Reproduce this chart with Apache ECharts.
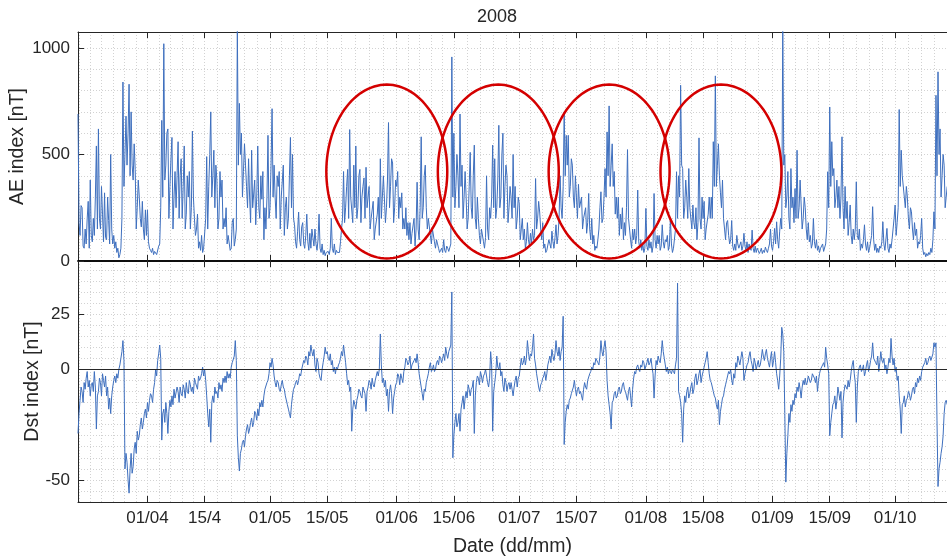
<!DOCTYPE html>
<html><head><meta charset="utf-8">
<script src="https://cdn.jsdelivr.net/npm/echarts@6/dist/echarts.min.js"></script>
<style>html,body{margin:0;padding:0;background:#fff}#c{width:947px;height:558px}</style>
</head><body><div id="c"></div>
<script>
// ---- data (6-hourly samples starting 2008-03-15 00:00 UTC, one row of 4 per day) ----
const startDate = Date.UTC(2008, 2, 15);
const stepHours = 6;
const aeValues = [
690,180,120,260, 250,70,60,150, 80,200,280,60, 380,120,90,200, 120,300,540,150,
620,200,150,350, 220,90,320,110, 100,300,190,80, 500,150,80,120, 60,90,40,60,
15,30,60,200, 840,350,500,680, 450,600,830,400, 700,450,380,550, 430,150,250,380,
300,200,160,280, 150,100,240,120, 240,90,60,50, 40,60,30,45, 50,30,25,70,
80,250,660,300, 1020,380,450,600, 620,200,350,480, 580,150,300,420, 250,400,560,200,
400,480,200,350, 540,150,220,400, 300,420,150,250, 610,300,200,120, 150,220,60,90,
50,120,40,60, 60,200,490,150, 350,500,700,300, 400,520,250,450, 380,150,200,420,
300,380,150,200, 160,250,80,120, 120,50,60,180, 200,70,100,150, 1100,450,740,500,
600,300,420,550, 450,350,250,480, 300,180,520,250, 250,380,170,300, 540,250,200,400,
290,420,100,250, 150,300,590,200, 250,450,715,300, 450,300,200,400, 350,420,150,300,
300,450,120,250, 300,150,200,400, 580,250,500,200, 170,90,60,140, 230,100,70,160,
180,80,60,120, 220,90,50,130, 60,150,110,70, 150,80,50,100, 220,60,40,80,
30,50,25,40, 35,45,30,60, 200,60,40,80, 30,50,40,35, 40,90,150,200,
420,180,250,350, 430,200,617,300, 300,180,450,250, 540,200,250,400, 430,180,300,350,
390,200,440,250, 250,350,150,200, 200,280,100,150, 150,220,300,120, 480,200,300,400,
400,180,250,380, 650,250,350,480, 460,180,250,380, 350,420,200,300, 250,320,150,200,
150,250,120,180, 100,180,80,130, 130,200,70,150, 370,150,100,250, 583,200,250,400,
450,250,150,200, 200,120,80,150, 150,90,60,100, 80,60,40,50, 60,40,100,50,
40,70,60,45, 50,80,958,300, 600,250,350,500, 400,250,690,350, 450,200,300,420,
300,150,200,350, 510,250,200,400, 544,200,150,300, 200,120,80,150, 150,90,60,110,
400,150,100,250, 200,300,544,250, 480,200,250,380, 637,250,300,500, 600,200,350,450,
400,180,250,350, 300,200,500,250, 350,150,200,300, 270,100,150,200, 100,150,60,90,
180,100,70,130, 80,150,100,120, 387,150,200,280, 230,150,100,180, 60,80,40,50,
50,100,80,60, 140,90,60,110, 170,80,120,200, 400,250,200,350, 700,400,590,450,
590,300,350,480, 450,300,250,400, 300,200,360,250, 250,300,150,200, 200,250,130,180,
317,150,100,200, 80,120,50,70, 60,100,150,250, 325,180,200,300, 434,300,606,400,
728,350,450,550, 350,420,220,300, 200,300,120,220, 150,250,100,180, 120,250,523,200,
200,100,60,150, 100,150,80,120, 333,90,60,100, 50,80,40,60, 247,70,50,100,
60,90,40,70, 317,100,60,120, 80,120,50,70, 170,90,60,100, 90,120,50,70,
200,80,40,60, 60,150,419,200, 400,300,825,450, 434,200,250,380, 300,200,434,250,
200,150,263,180, 150,250,100,180, 578,200,150,300, 200,280,100,150, 150,220,300,200,
300,200,560,350, 869,350,450,550, 400,320,250,380, 200,150,100,180, 190,120,80,100,
190,70,50,80, 50,120,80,60, 60,90,50,70, 130,70,50,90, 40,80,60,50,
145,60,40,70, 40,60,50,35, 45,60,35,50, 40,65,50,40, 60,80,150,70,
50,90,153,80, 184,100,60,140, 200,150,1100,450, 500,250,300,420, 200,150,434,250,
300,180,340,200, 520,200,250,380, 387,150,200,300, 250,150,100,180, 90,120,60,80,
200,90,60,100, 50,70,40,60, 60,80,45,50, 80,150,419,250, 723,350,560,400,
434,250,300,380, 250,350,200,300, 583,250,150,350, 200,280,120,180, 263,120,80,150,
100,150,372,120, 100,150,50,80, 60,100,170,80, 50,90,40,60, 60,120,255,100,
50,80,40,60, 40,70,60,90, 184,80,50,100, 153,60,40,80, 60,100,150,200,
263,120,180,250, 711,350,520,400, 400,300,250,350, 300,200,150,250, 231,150,100,180,
120,150,60,90, 80,120,200,60, 30,40,20,35, 25,40,30,60, 40,100,231,150,
778,400,888,500, 620,300,400,500, 450,250,300,350
];
const dstValues = [
-29,-20,-14,-8, -10,-15,-6,-9, -4,-1,-8,-5, -12,-7,-6,-10, -1,-8,-27,-12,
-10,-4,-6,-12, -2,-5,-8,-3, -12,-8,-18,-13, -20,-12,-8,-5, -3,-6,-2,-4,
0,2,5,8, 13,4,-45,-38, -42,-50,-56,-45, -38,-47,-44,-36, -33,-38,-28,-32,
-30,-25,-22,-27, -24,-20,-18,-22, -15,-19,-14,-11, -12,-15,-9,-6, 0,-3,4,7,
11,5,-32,-20, -18,-24,-15,-20, -29,-19,-14,-17, -12,-16,-9,-13, -13,-8,-10,-15,
-8,-11,-12,-7, -9,-13,-6,-10, -11,-5,-7,-10, -8,-11,-4,-6, -6,-9,-3,-5,
-4,-2,1,-3, 0,-5,-12,-20, -26,-18,-33,-15, -12,-15,-8,-11, -10,-13,-6,-9,
-7,-10,-4,-6, -3,-6,-1,-4, -2,-4,1,3, 3,6,13,4, -30,-40,-46,-38,
-36,-33,-32,-35, -30,-27,-25,-29, -27,-24,-22,-26, -24,-19,-20,-23, -18,-21,-15,-17,
-14,-17,-12,-9, -9,-6,-5,-2, 3,1,5,2, -3,-6,-8,-5, -6,-9,-10,-7,
-5,-8,-9,-12, -12,-16,-18,-20, -22,-16,-12,-9, -8,-6,-5,-7, -5,-2,-3,0,
0,4,3,6, 5,2,8,6, 11,8,6,9, 2,-1,5,3, -2,-4,-5,0,
3,6,10,7, 8,5,4,7, 2,4,-1,1, -2,1,0,2, 3,5,8,6,
11,7,3,-2, -7,-5,-10,-8, -28,-18,-14,-16, -18,-14,-12,-9, -10,-12,-13,-8,
-8,-11,-19,-10, -8,-5,-6,-9, -4,-7,-8,-5, -5,-1,-3,0, 16,2,-6,-4,
-8,-5,-12,-9, -19,-10,-7,-11, -20,-13,-10,-7, -6,-2,-3,-7, -2,-4,-6,-1,
1,5,4,2, 3,6,0,2, 2,4,5,3, 7,3,-2,-5, -8,-11,-14,-9,
-10,-6,-4,-2, 1,3,-1,0, 2,-1,0,3, 4,2,6,5, 3,5,7,4,
10,7,5,8, 8,11,35,-40, -30,-24,-20,-26, -24,-20,-28,-18, -15,-12,-18,-13,
-10,-13,-7,-9, -12,-9,-8,-5, -29,-12,-6,-3, -4,-7,-1,-3, -6,-3,-2,0,
-3,-6,-8,-4, 8,2,-28,-10, -6,-2,6,1, 0,3,-3,-1, -7,-10,-4,-6,
-10,-7,-6,-9, -6,-9,-12,-8, -5,-3,-8,-4, -3,1,5,2, 3,6,2,5,
13,8,4,7, 6,10,16,5, 2,-2,-5,-8, -10,-7,-6,-4, -3,-1,-5,-2,
2,4,6,3, 9,6,4,7, 13,8,6,10, 4,8,10,24, -34,-24,-19,-16,
-18,-14,-13,-11, -11,-8,-5,-9, -12,-9,-8,-11, -10,-12,-14,-9, -6,-8,-9,-5,
-5,-2,-1,1, 0,3,2,5, 5,3,2,6, 13,8,6,10, 13,8,-5,-12,
-16,-20,-27,-15, -14,-11,-10,-13, -12,-9,-8,-11, -10,-7,-6,-9, -10,-12,-14,-10,
-8,-12,-17,-9, -4,-1,-2,1, 2,0,-1,2, 1,4,3,0, 0,3,5,2,
3,5,1,-2, -13,-3,4,2, 6,4,3,7, 13,8,5,2, -1,1,-2,0,
-1,-2,0,-1, -2,2,5,39, -10,-12,-15,-20, -33,-18,-12,-15, -10,-8,-13,-11,
-8,-6,-11,-9, -4,-2,-7,-5, -2,0,-6,-3, -1,1,3,5, 8,3,-2,-5,
-6,-8,-10,-12, -13,-16,-18,-14, -25,-19,-16,-13, -12,-9,-7,-5, -3,-1,-2,0,
-5,-7,-2,-4, 3,1,6,4, 2,5,8,5, -5,-2,0,2, 3,6,8,4,
2,-1,5,3, 0,2,4,1, 2,5,9,6, 4,7,9,5, 3,1,5,8,
1,4,8,3, -2,-5,-9,-3, 5,19,16,8, -20,-51,-38,-30, -20,-24,-16,-19,
-14,-16,-11,-13, -8,-10,-6,-9, -13,-8,-5,-7, -4,-7,-6,-3, -3,-6,-5,-2,
-2,-4,-6,-3, -10,-5,-2,0, 0,2,3,1, 10,5,2,-2, -30,-24,-20,-16,
-15,-12,-18,-14, -8,-11,-14,-10, -31,-15,-10,-7, -7,-9,-5,-8, -5,-1,2,4,
-2,-6,-24,-8, -1,1,2,-1, 0,2,-3,-1, 2,4,-1,1, 4,6,12,5,
5,3,2,6, -1,3,8,4, 3,5,0,2, -2,1,5,3, 14,6,2,5,
-1,1,-5,-3, -12,-18,-29,-16, -15,-12,-17,-14, -13,-10,-11,-14, -12,-9,-8,-11,
-6,-8,-4,-6, -3,-5,-1,1, 1,3,5,2, 3,5,6,4, 4,7,12,10,
12,-23,-53,-45, -42,-38,-35,-30, -20,-15,-14,-16
];
const tickDates = ['2008-04-01','2008-04-15','2008-05-01','2008-05-15','2008-06-01','2008-06-15',
  '2008-07-01','2008-07-15','2008-08-01','2008-08-15','2008-09-01','2008-09-15','2008-10-01'];
const tickLabels = ['01/04','15/4','01/05','15/05','01/06','15/06','01/07','15/07','01/08','15/08','01/09','15/09','01/10'];
const aeTicks = [0, 500, 1000];
const dstTicks = [-50, 0, 25];
// highlighted intervals (red ellipses): centre time, centre AE, half-width (days), half-height (nT)
const ellipseCentres = ['2008-05-29T14:00Z','2008-06-25T21:00Z','2008-07-23T00:00Z','2008-08-19T09:00Z'];
const ellipseCentreAE = [420, 420, 420, 420];
const ellipseHalfDays = [14.8, 14.8, 14.8, 14.8];
const ellipseHalfAE = [408, 408, 408, 408];

// ---- build ----
const DAY = 86400000;
const xMin = startDate;
const xMax = startDate + 212.7 * DAY;
const tickTimes = tickDates.map(d => Date.parse(d + 'T00:00:00Z'));
const aeData = aeValues.map((v, i) => [startDate + i * stepHours * 3600000, v]);
const dstData = dstValues.map((v, i) => [startDate + i * stepHours * 3600000, v]);

// minor grid: 5 subdivisions per labelled interval
const minorVals = [];
(function () {
  const step0 = (tickTimes[1] - tickTimes[0]) / 5;
  for (let t = tickTimes[0] - step0; t >= xMin - 1; t -= step0) minorVals.push(t);
  for (let k = 0; k < tickTimes.length - 1; k++) {
    const s = (tickTimes[k + 1] - tickTimes[k]) / 5;
    for (let j = 0; j < 5; j++) minorVals.push(tickTimes[k] + j * s);
  }
  const last = tickTimes[tickTimes.length - 1];
  const sl = (last - tickTimes[tickTimes.length - 2]) / 5;
  for (let t = last; t <= xMax; t += sl) minorVals.push(t);
  minorVals.sort((a, b) => a - b);
})();

const FONT = "'Liberation Sans', Arial, Helvetica, sans-serif";
const TXT = '#262626';
const gridLine = { show: true, lineStyle: { color: '#d2d2d2', width: 1, type: [1, 2] } };
const fmtX = v => { const i = tickTimes.indexOf(v); return i >= 0 ? tickLabels[i] : ''; };
const fmtY = v => String(v);

function xGridAxis(g) {
  return { type: 'value', gridIndex: g, min: xMin, max: xMax, position: 'bottom',
    axisLine: { show: false, onZero: false }, axisTick: { show: false, customValues: minorVals },
    axisLabel: { show: false }, splitLine: gridLine };
}
function xTickAxis(g, pos, lineColor, lineWidth, labels) {
  return { type: 'value', gridIndex: g, min: xMin, max: xMax, position: pos,
    axisLine: { show: true, onZero: false, lineStyle: { color: lineColor, width: lineWidth } },
    axisTick: { show: true, inside: true, length: 6, customValues: tickTimes, lineStyle: { color: TXT, width: 1 } },
    axisLabel: labels ? { show: true, customValues: tickTimes, formatter: fmtX, margin: 8, fontSize: 17, color: TXT, fontFamily: FONT } : { show: false },
    splitLine: { show: false } };
}
function yGridAxis(g, min, max, interval) {
  return { type: 'value', gridIndex: g, min, max, interval,
    axisLine: { show: false, onZero: false }, axisTick: { show: false }, axisLabel: { show: false },
    splitLine: gridLine };
}
function yTickAxis(g, min, max, ticks, name, gap) {
  return { type: 'value', gridIndex: g, min, max, position: 'left',
    axisLine: { show: true, onZero: false, lineStyle: { color: TXT, width: 1 } },
    axisTick: { show: true, inside: true, length: 6, customValues: ticks, lineStyle: { color: TXT } },
    axisLabel: { show: true, customValues: ticks, formatter: fmtY, margin: 8, fontSize: 17, color: TXT, fontFamily: FONT },
    splitLine: { show: false },
    name, nameLocation: 'middle', nameGap: gap, nameRotate: 90, nameMoveOverlap: false,
    nameTextStyle: { fontSize: 19.5, color: TXT, fontFamily: FONT } };
}

const chart = echarts.init(document.getElementById('c'), null, { renderer: 'canvas' });
chart.setOption({
  animation: false,
  backgroundColor: '#ffffff',
  title: { text: '2008', left: 472, top: 3, textStyle: { fontSize: 18, fontWeight: 'normal', color: TXT, fontFamily: FONT } },
  grid: [
    { left: 78, top: 32, width: 869, height: 229 },
    { left: 78, top: 261, width: 869, height: 243 }
  ],
  xAxis: [
    xGridAxis(0),
    xTickAxis(0, 'bottom', '#000000', 1.5, false),
    xTickAxis(0, 'top', TXT, 1, false),
    xGridAxis(1),
    Object.assign(xTickAxis(1, 'bottom', TXT, 1, true), {
      name: 'Date (dd/mm)', nameLocation: 'middle', nameGap: 35, nameMoveOverlap: false,
      nameTextStyle: { fontSize: 19.5, color: TXT, fontFamily: FONT } }),
    xTickAxis(1, 'top', '#000000', 1.5, false)
  ],
  yAxis: [
    yGridAxis(0, 0, 1075, 100),
    yTickAxis(0, 0, 1075, aeTicks, 'AE index [nT]', 50),
    yGridAxis(1, -60, 49, 5),
    yTickAxis(1, -60, 49, dstTicks, 'Dst index [nT]', 35)
  ],
  series: [
    { type: 'line', name: 'AE', xAxisIndex: 0, yAxisIndex: 0, data: aeData, showSymbol: false,
      lineStyle: { color: '#3e6fbe', width: 1 }, itemStyle: { color: '#3e6fbe' }, clip: true, z: 3 },
    { type: 'line', name: 'Dst', xAxisIndex: 3, yAxisIndex: 2, data: dstData, showSymbol: false,
      lineStyle: { color: '#3e6fbe', width: 1 }, itemStyle: { color: '#3e6fbe' }, clip: true, z: 3,
      markLine: { silent: true, symbol: 'none', label: { show: false }, animation: false,
        lineStyle: { color: TXT, width: 1, type: 'solid' }, data: [{ yAxis: 0 }] } },
    { type: 'custom', name: 'intervals', xAxisIndex: 0, yAxisIndex: 0, z: 10, silent: true,
      data: ellipseCentres.map((c, i) => [Date.parse(c), ellipseCentreAE[i], ellipseHalfDays[i] * DAY, ellipseHalfAE[i]]),
      renderItem: function (params, api) {
        const c = api.coord([api.value(0), api.value(1)]);
        const s = api.size([api.value(2), api.value(3)]);
        const pts = [];
        for (let k = 0; k < 120; k++) {
          const a = k / 120 * 2 * Math.PI;
          pts.push([c[0] + s[0] * Math.cos(a), c[1] + s[1] * Math.sin(a)]);
        }
        return { type: 'polygon', shape: { points: pts },
          style: { fill: 'none', stroke: '#d40000', lineWidth: 2.5 } };
      } }
  ]
});
</script></body></html>
